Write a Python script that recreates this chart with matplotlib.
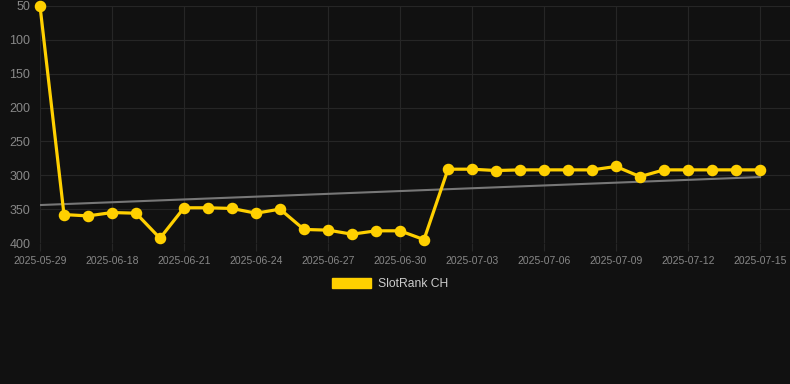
import matplotlib
matplotlib.use("Agg")
import matplotlib.pyplot as plt
import numpy as np
from matplotlib.patches import Patch

dates = ["2025-05-29", "2025-06-16", "2025-06-17", "2025-06-18", "2025-06-19", "2025-06-20",
         "2025-06-21", "2025-06-22", "2025-06-23", "2025-06-24", "2025-06-25", "2025-06-26",
         "2025-06-27", "2025-06-28", "2025-06-29", "2025-06-30", "2025-07-01", "2025-07-02",
         "2025-07-03", "2025-07-04", "2025-07-05", "2025-07-06", "2025-07-07", "2025-07-08",
         "2025-07-09", "2025-07-10", "2025-07-11", "2025-07-12", "2025-07-13", "2025-07-14",
         "2025-07-15"]
ranks = [50, 358, 360, 355, 356, 393, 348, 348, 349, 356, 350, 380, 381, 387, 382, 382, 395,
         291, 291, 293, 292, 292, 292, 292, 287, 302, 292, 292, 292, 292, 292]
yticks = [50, 100, 150, 200, 250, 300, 350, 400]
series_name = "SlotRank CH"

BG = "#111111"
GOLD = "#FFD000"
plt.rcParams['font.family'] = ['Liberation Sans', 'DejaVu Sans']

fig = plt.figure(figsize=(7.9, 3.84), dpi=100, facecolor=BG)
ax = fig.add_axes([40/790, 1-243/384, 750/790, 237/384], facecolor=BG)

x = np.arange(len(ranks))
coef = np.polyfit(x, ranks, 1)
ax.plot([x[0], x[-1]], np.polyval(coef, [x[0], x[-1]]), color="#777777", lw=1.5, zorder=2)
ax.plot(x, ranks, color=GOLD, lw=2.3, marker="o", ms=7.3, zorder=3, clip_on=False)

ax.set_ylim(400, 50)
ax.set_xlim(0, 31.25)
ax.set_yticks(yticks)
tick_idx = [0] + list(range(3, len(dates), 3))
ax.set_xticks(tick_idx)
ax.set_xticklabels([dates[i] for i in tick_idx])
ax.grid(True, color="#262626", lw=0.8)
ax.set_axisbelow(True)
for s in ax.spines.values():
    s.set_visible(False)
ax.tick_params(axis="y", length=0, pad=7, labelsize=9, labelcolor="#888888")
ax.tick_params(axis="x", length=6, width=0.8, color="#262626", pad=3, labelsize=7.5, labelcolor="#888888")

handle = Patch(facecolor=GOLD, edgecolor=GOLD)
leg = fig.legend([handle], [series_name], loc="center", bbox_to_anchor=(390/790, 1-284/384),
                 frameon=False, handlelength=3.3, handleheight=0.9, fontsize=8.7,
                 labelcolor="#cccccc", handletextpad=0.55)

fig.savefig("out.png", dpi=100, facecolor=BG)
